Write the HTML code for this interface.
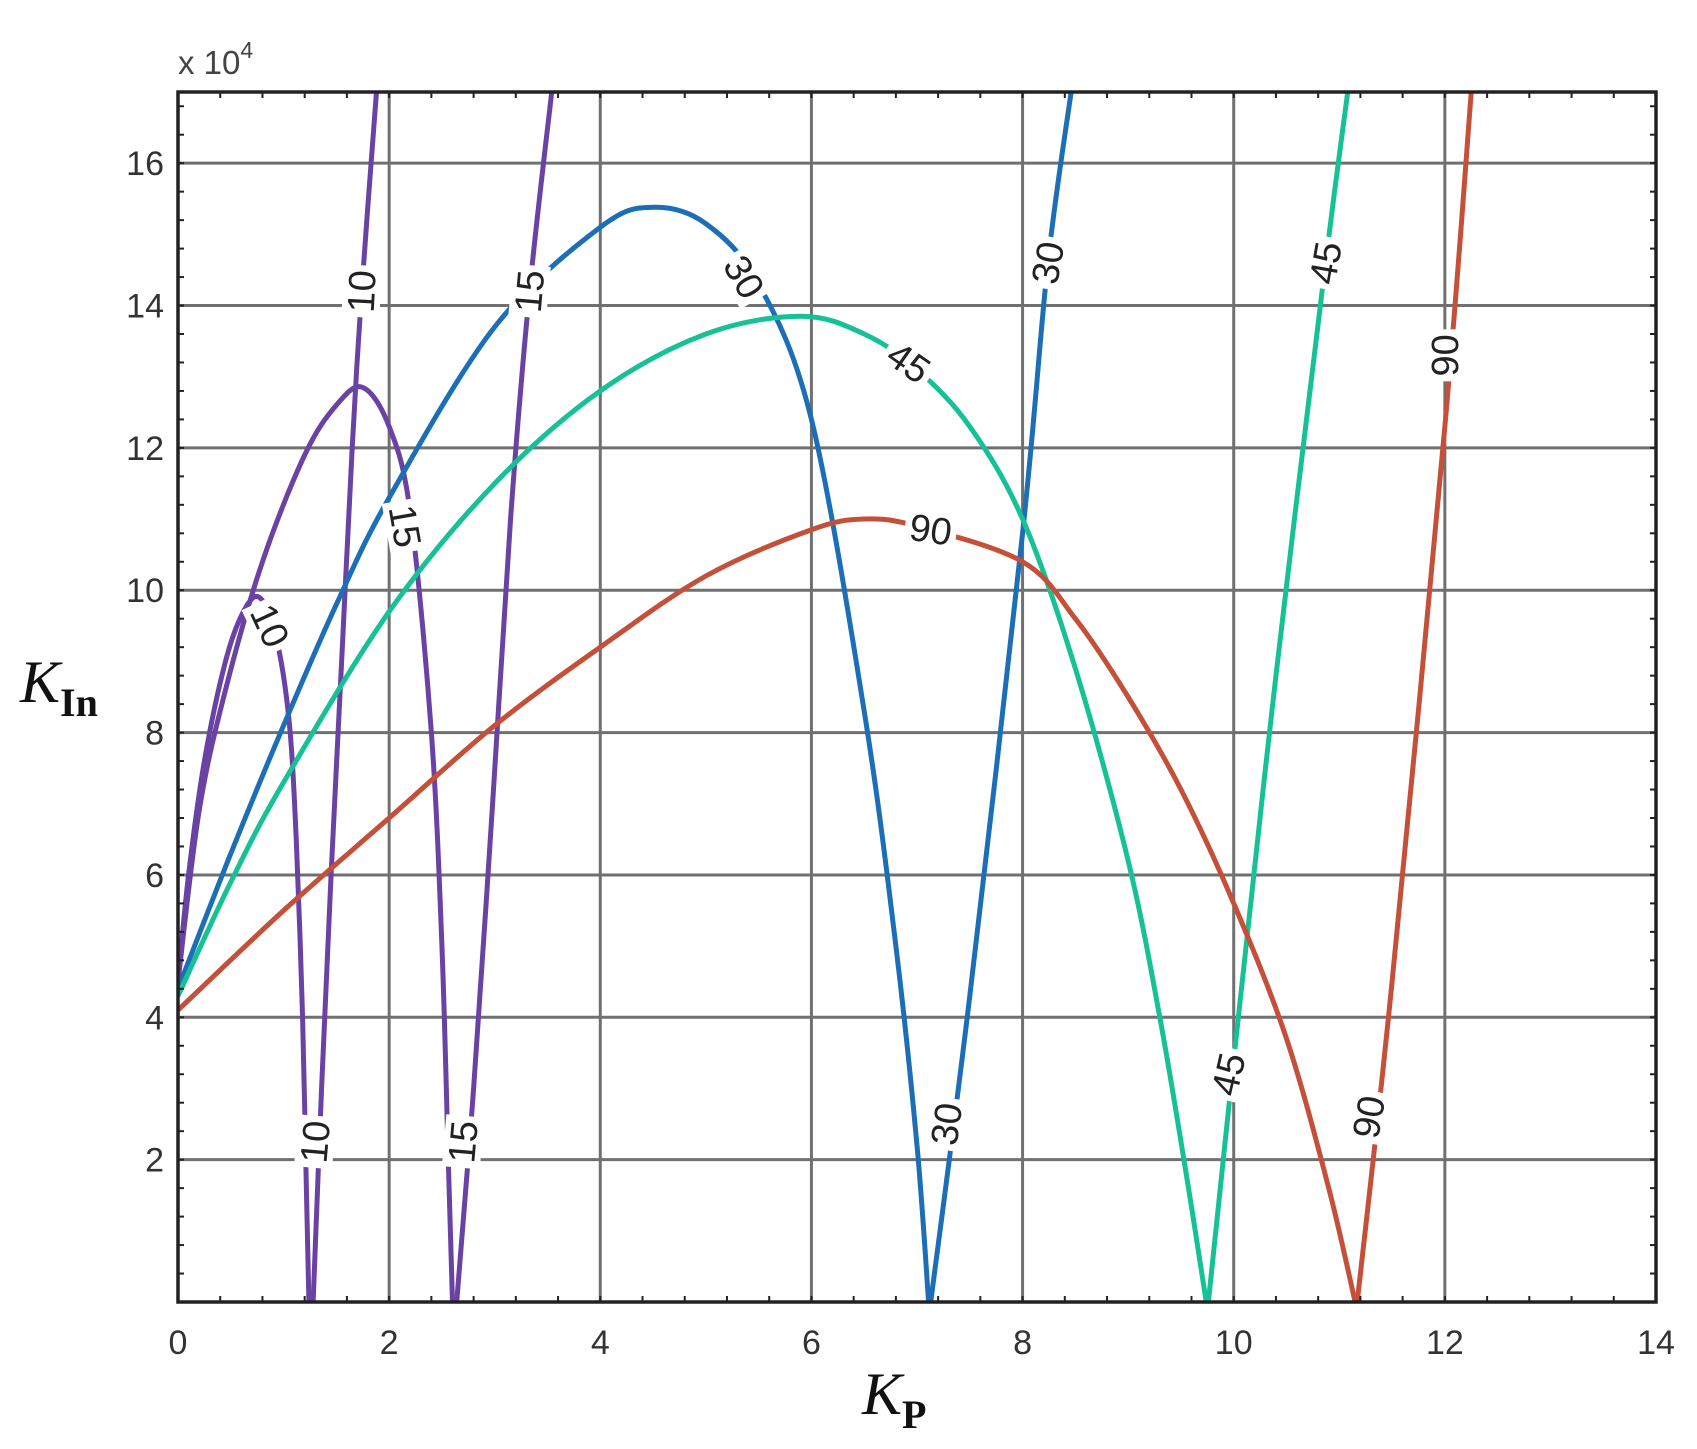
<!DOCTYPE html>
<html><head><meta charset="utf-8"><style>
html,body{margin:0;padding:0;background:#fff;}
svg{display:block;}
</style></head><body>
<svg id="chart" width="1697" height="1449" xmlns="http://www.w3.org/2000/svg" font-family="Liberation Sans, sans-serif">
<g id="grid"></g>
<g id="curves"></g>
<g id="labels"></g>
<g id="axes"></g>
<text x="178" y="74" font-size="33" fill="#444">x 10<tspan font-size="23" dy="-16">4</tspan></text>
<text x="20" y="702" font-family="Liberation Serif, serif" fill="#111"><tspan font-size="60" font-style="italic">K</tspan><tspan font-size="40" font-weight="bold" dy="14">In</tspan></text>
<text x="862" y="1414" font-family="Liberation Serif, serif" fill="#111"><tspan font-size="60" font-style="italic">K</tspan><tspan font-size="40" font-weight="bold" dy="14">P</tspan></text>
</svg>
<script>
const xTicks=[0,2,4,6,8,10,12,14];
const yTicks=[2,4,6,8,10,12,14,16];
const yTickLabels=["2","4","6","8","10","12","14","16"];
// series: [x, y(×1e4)]
const s10a=[[0,4.5],[0.1,6.0],[0.25,7.6],[0.45,9.0],[0.62,9.7],[0.77,9.9],[0.92,9.4],[1.05,8.2],[1.12,6.5],[1.18,4],[1.21,2],[1.24,0]];
const s10b=[[1.28,0],[1.36,3],[1.45,6],[1.55,9],[1.65,12],[1.74,14.2],[1.88,17]];
const s15a=[[0,4.5],[0.2,6.9],[0.45,8.6],[0.8,10.4],[1.2,11.9],[1.5,12.6],[1.75,12.85],[2.0,12.3],[2.2,11.1],[2.4,8.0],[2.5,5.0],[2.56,2],[2.6,0]];
const s15b=[[2.64,0],[2.8,3],[2.98,7],[3.15,11],[3.33,14.2],[3.54,17]];
const s30a=[[0,4.4],[0.5,6.3],[1,8.1],[1.5,9.8],[2,11.3],[3,13.7],[4,15.1],[4.5,15.38],[5,15.15],[5.5,14.3],[6,12.4],[6.5,8.3],[6.8,5],[7.0,2.2],[7.11,0]];
const s30b=[[7.13,0],[7.5,4.3],[8,10.8],[8.24,14.6],[8.46,17]];
const s45a=[[0,4.3],[0.5,5.9],[1,7.3],[2,9.7],[3,11.5],[4,12.8],[5,13.6],[5.9,13.85],[6.5,13.6],[7,13.1],[7.5,12.3],[8,11.0],[8.5,8.9],[9,6.2],[9.3,4.0],[9.55,1.8],[9.74,0]];
const s45b=[[9.76,0],[10,3.4],[10.4,8.8],[10.87,14.6],[11.08,17]];
const s90a=[[0,4.1],[1,5.5],[2,6.8],[3,8.1],[4,9.2],[5,10.2],[6,10.85],[6.5,11.0],[7,10.9],[8,10.4],[8.5,9.6],[9,8.5],[9.5,7.2],[10,5.6],[10.5,3.7],[10.9,1.6],[11.15,0]];
const s90b=[[11.17,0],[11.5,4.5],[12,12.3],[12.25,17]];
const seriesList=[[s10a,"#6a42a3"],[s10b,"#6a42a3"],[s15a,"#6a42a3"],[s15b,"#6a42a3"],[s30a,"#1c6fb6"],[s30b,"#1c6fb6"],[s45a,"#17c196"],[s45b,"#17c196"],[s90a,"#c4503a"],[s90b,"#c4503a"]];
const seriesNames=["curve-10-arch","curve-10-rise","curve-15-arch","curve-15-rise","curve-30-arch","curve-30-rise","curve-45-arch","curve-45-rise","curve-90-arch","curve-90-rise"];
const labelText=["10","15","30","30","45","90","45","90","15","10","10","15","30","45","90"];
const labelX=[1.74,3.33,5.36,8.24,10.87,12.0,6.92,7.13,2.15,0.87,1.3,2.7,7.28,9.95,11.28];
const labelY=[14.2,14.2,14.4,14.6,14.6,13.3,13.2,10.85,10.9,9.5,2.25,2.25,2.5,3.2,2.6];
const labelRot=[-87,-85,60,-80,-80,-90,35,8,80,65,-85,-85,-82,-77,-80];

const L=178,R=1656,T=92,B=1302,XMAX=14,YMAX=17;
const sx=v=>L+v/XMAX*(R-L);
const sy=v=>B-v/YMAX*(B-T);
const NS="http://www.w3.org/2000/svg";
function mk(tag,parent,attrs){const e=document.createElementNS(NS,tag);for(const k in attrs)e.setAttribute(k,attrs[k]);parent.appendChild(e);return e;}
const grid=document.getElementById('grid'),axes=document.getElementById('axes'),curves=document.getElementById('curves'),labels=document.getElementById('labels');
xTicks.forEach(t=>{if(t>0&&t<XMAX){const l=mk('line',grid,{x1:sx(t),x2:sx(t),y1:T,y2:B,stroke:'#707070','stroke-width':3});

}
const tx=mk('text',axes,{x:sx(t),y:B+52,'font-size':34,'text-anchor':'middle',fill:'#333'});tx.textContent=t;

});
yTicks.forEach((t,i)=>{const l=mk('line',grid,{x1:L,x2:R,y1:sy(t),y2:sy(t),stroke:'#707070','stroke-width':3});


const tx=mk('text',axes,{x:L-14,y:sy(t)+12,'font-size':34,'text-anchor':'end',fill:'#333'});tx.textContent=yTickLabels[i];

});
for(let v=0.4;v<XMAX;v+=0.4){mk('line',axes,{x1:sx(v),x2:sx(v),y1:B,y2:B-6,stroke:'#222','stroke-width':2});mk('line',axes,{x1:sx(v),x2:sx(v),y1:T,y2:T+6,stroke:'#222','stroke-width':2});}
for(let v=0.4;v<YMAX;v+=0.4){mk('line',axes,{x1:L,x2:L+6,y1:sy(v),y2:sy(v),stroke:'#222','stroke-width':2});mk('line',axes,{x1:R,x2:R-6,y1:sy(v),y2:sy(v),stroke:'#222','stroke-width':2});}
const fr=mk('rect',axes,{x:L,y:T,width:R-L,height:B-T,fill:'none',stroke:'#222','stroke-width':3.5});


function pathFor(pts){const P=pts.map(p=>[sx(p[0]),sy(p[1])]);let d='M'+P[0][0]+','+P[0][1];
for(let i=0;i<P.length-1;i++){const p0=P[i-1]||P[i],p1=P[i],p2=P[i+1],p3=P[i+2]||p2;
d+=' C'+(p1[0]+(p2[0]-p0[0])/6)+','+(p1[1]+(p2[1]-p0[1])/6)+' '+(p2[0]-(p3[0]-p1[0])/6)+','+(p2[1]-(p3[1]-p1[1])/6)+' '+p2[0]+','+p2[1];}return d;}
const cp=mk('clipPath',document.getElementById('chart'),{id:'clip'});mk('rect',cp,{x:L,y:T,width:R-L,height:B-T});
curves.setAttribute('clip-path','url(#clip)');
seriesList.forEach((s,i)=>{const p=mk('path',curves,{d:pathFor(s[0]),fill:'none',stroke:s[1],'stroke-width':5,'stroke-linejoin':'round'});

});
labelText.forEach((t,i)=>{const g=mk('g',labels,{transform:`translate(${sx(labelX[i])},${sy(labelY[i])}) rotate(${labelRot[i]})`});


mk('rect',g,{x:-26,y:-19,width:52,height:38,fill:'#fff'});
const tx=mk('text',g,{x:0,y:13,'font-size':38,'text-anchor':'middle',fill:'#222'});tx.textContent=t;});
</script>
</body></html>
